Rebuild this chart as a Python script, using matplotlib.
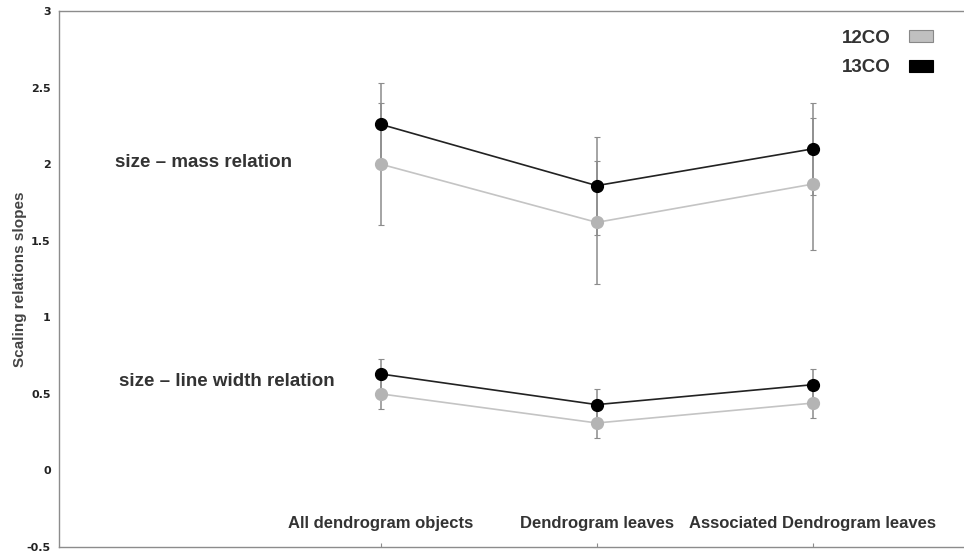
import matplotlib.pyplot as plt
from matplotlib.patches import Patch

categories = ["All dendrogram objects", "Dendrogram leaves", "Associated Dendrogram leaves"]
xpos = [1, 2, 3]

# size - mass relation slopes
mass_12co = [2.00, 1.62, 1.87]
mass_12co_err = [0.40, 0.40, 0.43]
mass_13co = [2.26, 1.86, 2.10]
mass_13co_err = [0.27, 0.32, 0.30]

# size - line width relation slopes
lw_12co = [0.50, 0.31, 0.44]
lw_12co_err = [0.10, 0.10, 0.10]
lw_13co = [0.63, 0.43, 0.56]
lw_13co_err = [0.10, 0.10, 0.10]

GREY_LINE = "#c4c4c4"
GREY_DOT = "#b4b4b4"
ERR = "#8c8c8c"
TXT = "#333333"

fig = plt.figure(figsize=(9.64, 5.52), dpi=100)
ax = fig.add_axes([0.0612, 0.009, 0.9388, 0.971])


def draw_series(y, err, line_c, dot_c):
    ax.errorbar(xpos, y, yerr=err, fmt="none", ecolor=ERR, elinewidth=1.1,
                capsize=2, capthick=0.8, zorder=2)
    ax.plot(xpos, y, "-", color=line_c, lw=1.2, zorder=3)
    ax.plot(xpos, y, "o", color=dot_c, ms=8.5, mec=dot_c, zorder=4)


draw_series(mass_12co, mass_12co_err, GREY_LINE, GREY_DOT)
draw_series(lw_12co, lw_12co_err, GREY_LINE, GREY_DOT)
draw_series(mass_13co, mass_13co_err, "#222222", "black")
draw_series(lw_13co, lw_13co_err, "#222222", "black")

ax.set_xlim(-0.49, 3.70)
ax.set_ylim(-0.5, 3)
ax.set_yticks([-0.5, 0, 0.5, 1, 1.5, 2, 2.5, 3])
ax.set_yticklabels(["-0.5", "0", "0.5", "1", "1.5", "2", "2.5", "3"],
                   fontsize=8, fontweight="bold", color="#222222")
ax.tick_params(axis="y", length=0, pad=6)

ax.set_xticks(xpos)
ax.set_xticklabels(categories, fontsize=12, fontweight="bold", color=TXT,
                   family="Liberation Sans")
ax.tick_params(axis="x", direction="in", length=3, pad=-22, color=ERR)

for side in ["left", "bottom", "top"]:
    ax.spines[side].set_color("#8c8c8c")
    ax.spines[side].set_linewidth(1.0)
ax.spines["right"].set_visible(False)

ax.set_ylabel("Scaling relations slopes", fontsize=11, fontweight="bold",
              color="#444444", family="Liberation Sans", labelpad=0)

ax.text(-0.23, 2.01, "size \u2013 mass relation", fontsize=13.5, fontweight="bold",
        color=TXT, family="Liberation Sans", va="center")
ax.text(-0.21, 0.58, "size \u2013 line width relation", fontsize=13.5, fontweight="bold",
        color=TXT, family="Liberation Sans", va="center")

handles = [Patch(facecolor="#c0c0c0", edgecolor="#888888", lw=0.8, label="12CO"),
           Patch(facecolor="black", edgecolor="black", lw=0.8, label="13CO")]
ax.legend(handles=handles, loc="upper right", bbox_to_anchor=(0.984, 0.996),
          frameon=False, markerfirst=False, handlelength=1.25, handleheight=0.6,
          handletextpad=1.0, labelspacing=0.66,
          prop={"family": "Liberation Sans", "weight": "bold", "size": 13.5},
          labelcolor=TXT)

fig.savefig("out.png", dpi=100)
